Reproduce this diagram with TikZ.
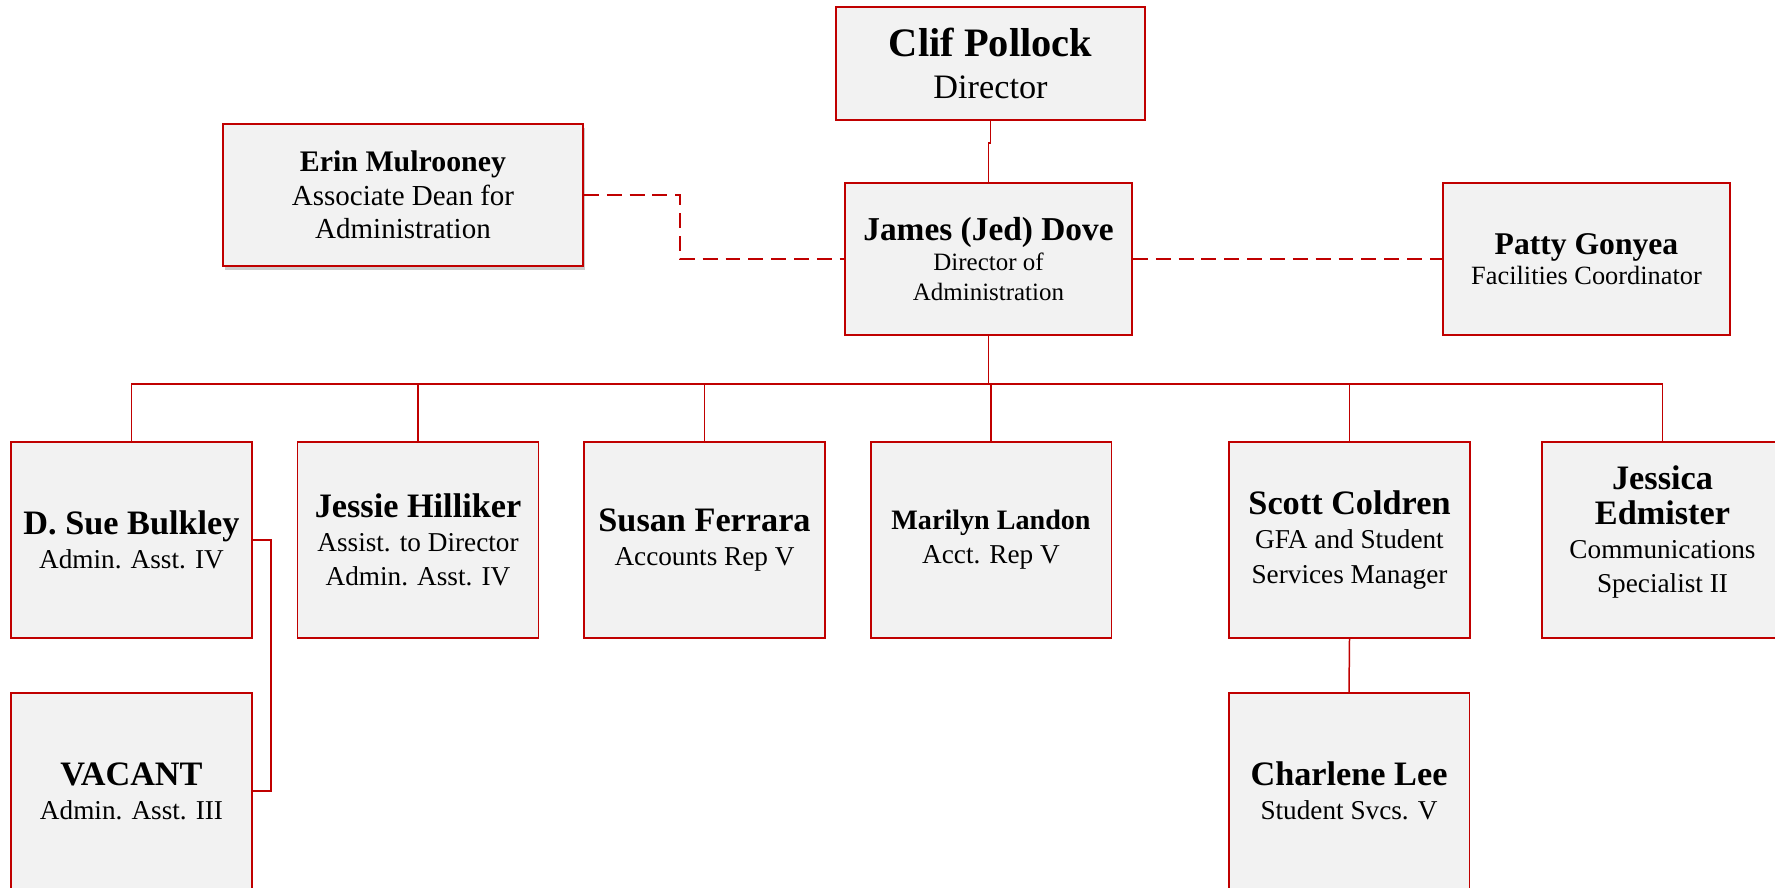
\documentclass[tikz,border=0pt]{standalone}
\usepackage{fontspec}
\setmainfont{Liberation Serif}
\usepackage{tikz}
\usetikzlibrary{shadows}

\definecolor{boxred}{RGB}{192,0,0}
\definecolor{boxfill}{RGB}{242,242,242}
\newcommand{\who}[2][19.5]{{\fontsize{#1}{23}\selectfont\bfseries #2}}

\tikzset{
	person/.style={draw=boxred,fill=boxfill,line width=1.1pt,align=center,inner sep=2pt,
		minimum width=4.82cm,minimum height=3.92cm,font=\fontsize{15.5}{19.5}\selectfont},
	link/.style={draw=boxred,line width=0.85pt},
	assoc/.style={link,dash pattern=on 8.5pt off 4.5pt}
}

\begin{document}
\begin{tikzpicture}[x=0.02cm,y=-0.02cm]
		\useasboundingbox (0,0) rectangle (1775,887);
		% top of the chart
		\node[person,minimum width=6.18cm,minimum height=2.26cm,font=\fontsize{19.5}{24}\selectfont] (clif) at(990.5,63.5) {\who[23]{Clif Pollock}\\ Director};
		\node[person,minimum width=5.74cm,minimum height=3.04cm,font=\fontsize{14.2}{17}\selectfont] (jed) at(988.5,259) {\who[19]{James (Jed) Dove}\\ Director of\\ Administration};
		\node[person,minimum width=7.2cm,minimum height=2.84cm,font=\fontsize{16.5}{19}\selectfont,
			drop shadow={shadow xshift=1pt,shadow yshift=-2.5pt,opacity=0.4}] (erin) at(403,195) {\who[17]{Erin Mulrooney}\\ Associate Dean for\\ Administration};
		\node[person,minimum width=5.74cm,minimum height=3.04cm,font=\fontsize{15}{17}\selectfont] (patty) at(1586.5,259) {\who[18]{Patty Gonyea}\\ Facilities Coordinator};
		
		% staff row
		\node[person] (sue) at(131.5,540) {\who{D. Sue Bulkley}\\ Admin. Asst. IV};
		\node[person] (jessie) at(418,540) {\who{Jessie Hilliker}\\ Assist. to Director\\ Admin. Asst. IV};
		\node[person] (susan) at(704.5,540) {\who{Susan Ferrara}\\ Accounts Rep V};
		\node[person] (marilyn) at(991,540) {\who[16]{Marilyn Landon}\\ Acct. Rep V};
		\node[person] (scott) at(1349.5,540) {\who{Scott Coldren}\\ GFA and Student\\ Services Manager};
		\node[person,text depth=12pt] (jessica) at(1662.5,540) {\who{Jessica}\\ \who{Edmister}\\ Communications\\ Specialist II};
		\node[person] (vacant) at(131.5,791) {\who{VACANT}\\ Admin. Asst. III};
		\node[person] (charlene) at(1349,791) {\who{Charlene Lee}\\ Student Svcs. V};
		
		% reporting lines
		\draw[link] (clif.south)--++(0,22)-|(jed.north);
		\foreach \n in {sue,jessie,susan,marilyn,scott,jessica}
			\draw[link] (jed.south)--++(0,48)-|(\n.north);
		\draw[link] (sue.east)--++(18,0)|-(vacant.east);
		\draw[link] (scott.south)--(charlene.north);
		\draw[assoc] (erin.east)--++(96,0)|-(jed.west);
		\draw[assoc] (jed.east)--(patty.west);
	\end{tikzpicture}
\end{document}
